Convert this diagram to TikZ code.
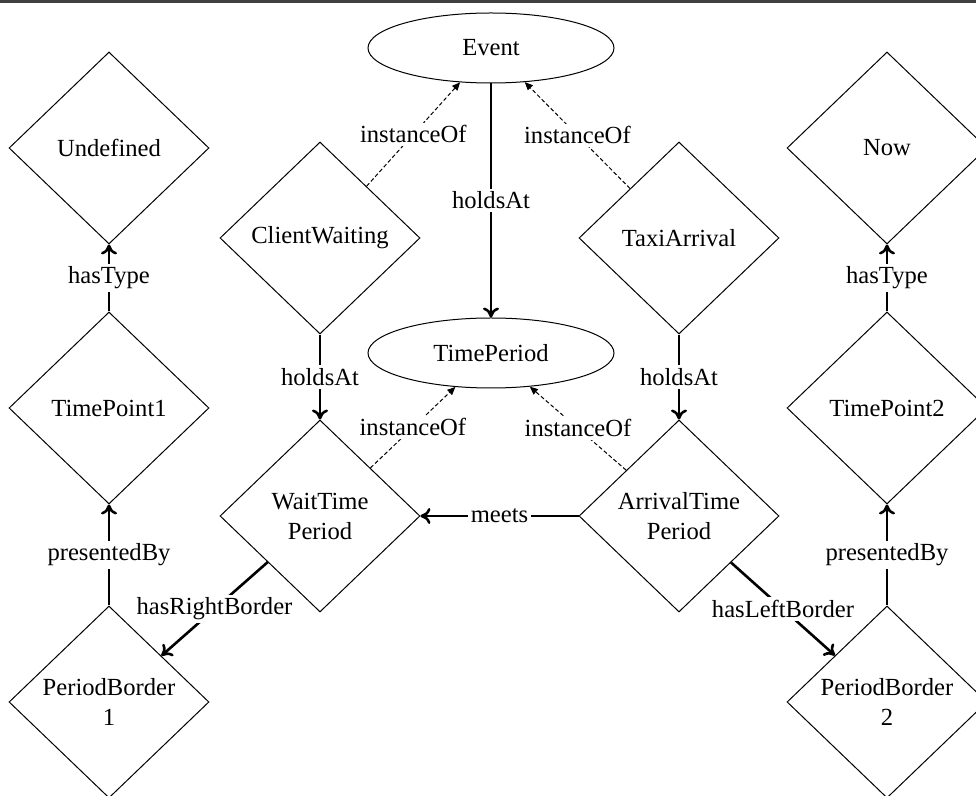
\documentclass[tikz,border=0pt]{standalone}
\usepackage{fontspec}
\setmainfont{Liberation Serif}
\newfontfamily\dgfont{Liberation Serif}
\usetikzlibrary{shapes.geometric,arrows.meta}
\begin{document}
\begin{tikzpicture}[x=0.5pt,y=-0.5pt,
  every node/.style={font=\dgfont\fontsize{12.3}{15}\selectfont},
  dia/.style={diamond,draw,line width=0.5pt,inner sep=0pt,minimum width=100pt,minimum height=96pt,align=center},
  ell/.style={ellipse,draw,line width=0.5pt,inner sep=0pt,minimum width=123pt,minimum height=35pt},
  rel/.style={line width=1.3pt,-{To[length=5pt,width=8pt]}},
  inst/.style={line width=0.5pt,dash pattern=on 2pt off 1.2pt,-{Triangle[length=4pt,width=3.5pt]}},
  lab/.style={fill=white,inner sep=1.5pt}]
\useasboundingbox (0,0) rectangle (976,796);
\clip (0,0) rectangle (976,796);
\draw[black!75,line width=1.5pt] (0,1.5) -- (976,1.5);
\node[ell] (event) at (491,48) {Event};
\node[ell] (tp) at (491,353) {TimePeriod};
\node[dia] (undef) at (109,148) {Undefined};
\node[dia] (tp1) at (109,408) {TimePoint1};
\node[dia] (pb1) at (109,702) {PeriodBorder\\1};
\node[dia] (cw) at (320,238) {ClientWaiting};
\node[dia] (wtp) at (320,516) {WaitTime\\Period};
\node[dia] (ta) at (679,238) {TaxiArrival};
\node[dia] (atp) at (679,516) {ArrivalTime\\Period};
\node[dia] (now) at (887,148) {Now};
\node[dia] (tp2) at (887,408) {TimePoint2};
\node[dia] (pb2) at (887,702) {PeriodBorder\\2};
\draw[rel] (event) -- node[lab]{holdsAt} (tp);
\draw[inst] (cw) -- node[lab]{instanceOf} (event);
\draw[inst] (ta) -- node[lab]{instanceOf} (event);
\draw[inst] (wtp) -- node[lab]{instanceOf} (tp);
\draw[inst] (atp) -- node[lab]{instanceOf} (tp);
\draw[rel] (cw) -- node[lab]{holdsAt} (wtp);
\draw[rel] (ta) -- node[lab]{holdsAt} (atp);
\draw[rel] (atp) -- node[lab]{meets} (wtp);
\draw[rel] (wtp) -- node[lab]{hasRightBorder} (pb1);
\draw[rel] (atp) -- node[lab]{hasLeftBorder} (pb2);
\draw[rel] (tp1) -- node[lab]{hasType} (undef);
\draw[rel] (pb1) -- node[lab]{presentedBy} (tp1);
\draw[rel] (tp2) -- node[lab]{hasType} (now);
\draw[rel] (pb2) -- node[lab]{presentedBy} (tp2);
\end{tikzpicture}
\end{document}
